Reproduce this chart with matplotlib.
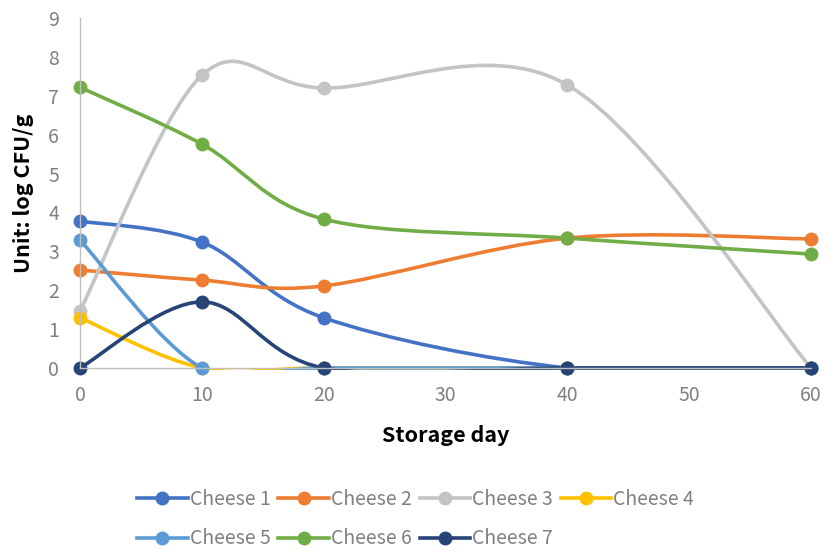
import numpy as np
import matplotlib
matplotlib.use("Agg")
import matplotlib.pyplot as plt
from matplotlib.path import Path
from matplotlib.patches import PathPatch, Rectangle
from matplotlib.lines import Line2D

plt.rcParams['font.family'] = ['Noto Sans CJK KR', 'DejaVu Sans']

# Data
days = [0, 10, 20, 40, 60]
series_names = ["Cheese 1", "Cheese 2", "Cheese 3", "Cheese 4", "Cheese 5", "Cheese 6", "Cheese 7"]
cheese1 = [3.78, 3.24, 1.29, 0.0, 0.0]
cheese2 = [2.52, 2.26, 2.11, 3.34, 3.32]
cheese3 = [1.47, 7.53, 7.20, 7.28, 0.0]
cheese4 = [1.29, 0.0, 0.0, 0.0, 0.0]
cheese5 = [3.29, 0.0, 0.0, 0.0, 0.0]
cheese6 = [7.22, 5.76, 3.83, 3.34, 2.93]
cheese7 = [0.0, 1.70, 0.0, 0.0, 0.0]
all_series = [cheese1, cheese2, cheese3, cheese4, cheese5, cheese6, cheese7]
colors = ["#4472C4", "#ED7D31", "#C4C4C4", "#FFC000", "#5B9BD5", "#70AD47", "#264478"]


# Excel-like smoothed line (Catmull-Rom as cubic Bezier)
def smooth_path(xs, ys):
    pts = np.column_stack([xs, ys]).astype(float)
    n = len(pts)
    verts = [pts[0]]
    codes = [Path.MOVETO]
    for i in range(n - 1):
        p0 = pts[i - 1] if i > 0 else pts[i]
        p1 = pts[i]
        p2 = pts[i + 1]
        p3 = pts[i + 2] if i + 2 < n else pts[i + 1]
        c1 = p1 + (p2 - p0) / 6.0
        c2 = p2 - (p3 - p1) / 6.0
        verts += [c1, c2, p2]
        codes += [Path.CURVE4] * 3
    return Path(verts, codes)


fig = plt.figure(figsize=(8.31, 5.5), dpi=100)
ax = fig.add_axes([0.0963, 0.331, 0.8797, 0.636])
ax.set_xlim(0, 60)
ax.set_ylim(0, 9)

# clip region: plot area, slightly widened so lines at 0 keep full width
clip = Rectangle((-2, -0.04), 64, 10, transform=ax.transData, visible=False)
ax.add_patch(clip)

handles = []
for name, vals, col in zip(series_names, all_series, colors):
    patch = PathPatch(smooth_path(days, vals), facecolor='none', edgecolor=col,
                      linewidth=2.6, capstyle='round', joinstyle='round')
    ax.add_patch(patch)
    patch.set_clip_path(clip)
    ax.plot(days, vals, linestyle='none', marker='o', markersize=9, color=col, clip_on=False)
    handles.append(Line2D([0], [0], color=col, linewidth=2.6, marker='o', markersize=9))

ax.set_xticks(range(0, 61, 10))
ax.set_yticks(range(0, 10))
for s in ['top', 'right']:
    ax.spines[s].set_visible(False)
for s in ['left', 'bottom']:
    ax.spines[s].set_color('#BFBFBF')
    ax.spines[s].set_linewidth(1.0)
ax.tick_params(length=0, labelsize=14, colors='#808080')
ax.tick_params(axis='x', pad=12)
ax.tick_params(axis='y', pad=15)

ax.set_xlabel("Storage day", fontsize=15.5, fontweight='bold', labelpad=14)
ax.set_ylabel("Unit: log CFU/g", fontsize=15.5, fontweight='bold', labelpad=10)

order = [0, 4, 1, 5, 2, 6, 3]
fig.legend([handles[i] for i in order], [series_names[i] for i in order],
           ncol=4, loc='center', bbox_to_anchor=(0.5, 0.056), frameon=False,
           fontsize=14, labelcolor='#808080', handlelength=2.6, handletextpad=0.1,
           columnspacing=0.4, labelspacing=0.95)

fig.savefig("out.png", dpi=100)
